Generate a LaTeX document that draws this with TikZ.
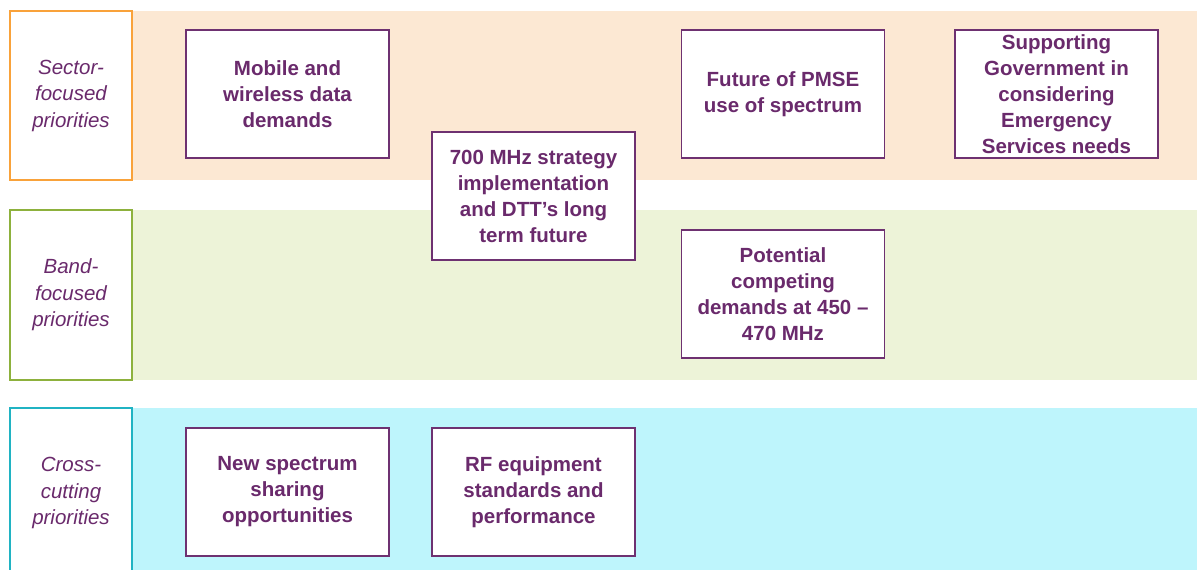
\documentclass[tikz,border=0pt]{standalone}
\usepackage{fontspec}
\setmainfont{Liberation Sans}
\definecolor{txt}{HTML}{6A2A6C}
\definecolor{oborder}{HTML}{F9A23A}
\definecolor{ofill}{HTML}{FCE8D3}
\definecolor{gborder}{HTML}{8DB13D}
\definecolor{gfill}{HTML}{EDF3D8}
\definecolor{cborder}{HTML}{20B3C3}
\definecolor{cfill}{HTML}{BEF5FC}
\definecolor{boxborder}{HTML}{6E3171}
\begin{document}
\begin{tikzpicture}[x=1pt,y=-1pt,
  prio/.style={draw=boxborder, line width=1.3pt, fill=white, minimum width=203pt, minimum height=128pt, inner sep=0pt, align=center, text=txt, font=\fontsize{20.5}{26}\selectfont\bfseries},
  lab/.style={fill=white, line width=1.5pt, minimum width=122pt, inner sep=0pt, align=center, text=txt, font=\fontsize{20.5}{26.5}\selectfont\itshape}]
\useasboundingbox (0,0) rectangle (1197,570);
% bands
\fill[ofill] (10,11) rectangle (1197,180);
\fill[gfill] (10,210) rectangle (1197,380);
\fill[cfill] (10,408) rectangle (1197,580);
% row labels
\node[lab, draw=oborder, minimum height=169pt] (sector) at (71,95.5) {Sector-\\focused\\priorities};
\node[lab, draw=gborder, minimum height=170pt] (band) at (71,295) {Band-\\focused\\priorities};
\node[lab, draw=cborder, minimum height=170pt] (cross) at (71,493) {Cross-\\cutting\\priorities};
% priority boxes
\node[prio] (mobile) at (287.5,94) {Mobile and\\wireless data\\demands};
\node[prio] (dtt) at (533.5,196) {700 MHz strategy\\implementation\\and DTT’s long\\term future};
\node[prio] (pmse) at (783,94) {Future of PMSE\\use of spectrum};
\node[prio] (gov) at (1056.5,94) {Supporting\\Government in\\considering\\Emergency\\Services needs};
\node[prio] (uhf) at (783,294) {Potential\\competing\\demands at 450 –\\470 MHz};
\node[prio] (share) at (287.5,492) {New spectrum\\sharing\\opportunities};
\node[prio] (rf) at (533.5,492) {RF equipment\\standards and\\performance};
\end{tikzpicture}
\end{document}
